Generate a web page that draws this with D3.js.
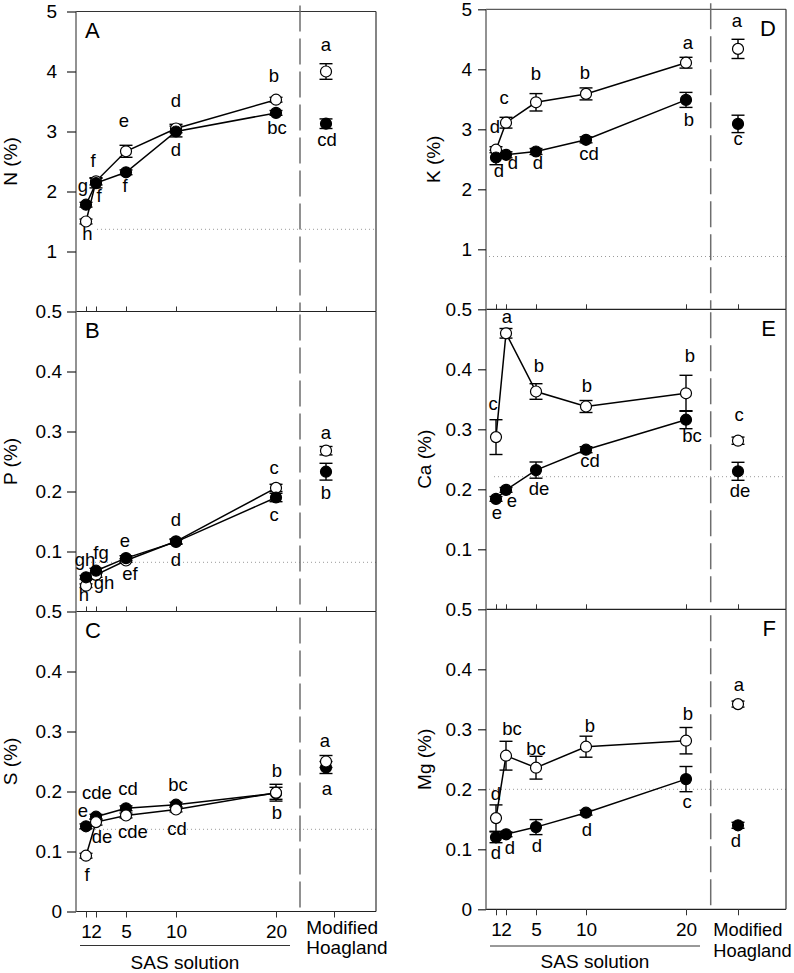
<!DOCTYPE html>
<html><head><meta charset="utf-8">
<script src="https://cdn.jsdelivr.net/npm/d3@7"></script>
<style>
body{margin:0;background:#fff}
svg{display:block}
text{font-family:"Liberation Sans",Arial,Helvetica,sans-serif;fill:#000}
</style>
</head><body><svg id="chart" width="794" height="973"></svg>
<script>
// ---------------- DATA ----------------
// Order of every series array: SAS solution 1, 2, 5, 10, 20, then Modified Hoagland
const sasLevels = [1, 2, 5, 10, 20];
const sasTickLabels = ["1", "2", "5", "10", "20"];
const hoaglandLabel = ["Modified", "Hoagland"];
const groupLabel = "SAS solution";
const panelLetters = ["A", "B", "C", "D", "E", "F"];
const yTitles = ["N (%)", "P (%)", "S (%)", "K (%)", "Ca (%)", "Mg (%)"];
const yTicksPercent = [1, 2, 3, 4, 5];
const yTicksMid = [0.1, 0.2, 0.3, 0.4, 0.5];
const yTicksBottom = [0, 0.1, 0.2, 0.3, 0.4, 0.5];

// N
const nOpen = [1.50, 2.17, 2.67, 3.05, 3.53, 4.00];
const nOpenErr = [0.04, 0.06, 0.10, 0.07, 0.04, 0.13];
const nFilled = [1.78, 2.14, 2.32, 3.00, 3.31, 3.13];
const nFilledErr = [0.04, 0.08, 0.04, 0.09, 0.04, 0.08];
const nOpenLetters = ["h", "f", "e", "d", "b", "a"];
const nFilledLetters = ["g", "f", "f", "d", "bc", "cd"];
const nRef = 1.37;
// P
const pOpen = [0.043, 0.061, 0.085, 0.117, 0.206, 0.268];
const pOpenErr = [0.003, 0.004, 0.003, 0.004, 0.006, 0.007];
const pFilled = [0.057, 0.068, 0.089, 0.116, 0.190, 0.233];
const pFilledErr = [0.003, 0.004, 0.004, 0.004, 0.007, 0.014];
const pOpenLetters = ["h", "gh", "ef", "d", "c", "a"];
const pFilledLetters = ["gh", "fg", "e", "d", "c", "b"];
const pRef = 0.082;
// S
const sOpen = [0.093, 0.149, 0.160, 0.170, 0.198, 0.250];
const sOpenErr = [0.004, 0.005, 0.004, 0.004, 0.014, 0.010];
const sFilled = [0.142, 0.158, 0.172, 0.178, 0.197, 0.240];
const sFilledErr = [0.004, 0.004, 0.004, 0.004, 0.010, 0.010];
const sOpenLetters = ["f", "de", "cde", "cd", "b", "a"];
const sFilledLetters = ["e", "cde", "cd", "bc", "b", "a"];
const sRef = 0.137;
// K
const kOpen = [2.66, 3.11, 3.45, 3.59, 4.11, 4.34];
const kOpenErr = [0.05, 0.09, 0.145, 0.10, 0.09, 0.16];
const kFilled = [2.53, 2.575, 2.63, 2.825, 3.49, 3.09];
const kFilledErr = [0.12, 0.05, 0.05, 0.05, 0.125, 0.145];
const kOpenLetters = ["d", "c", "b", "b", "a", "a"];
const kFilledLetters = ["d", "d", "d", "cd", "b", "c"];
const kRef = 0.88;
// Ca
const caOpen = [0.287, 0.460, 0.363, 0.338, 0.360, 0.281];
const caOpenErr = [0.029, 0.008, 0.013, 0.010, 0.030, 0.006];
const caFilled = [0.184, 0.199, 0.232, 0.266, 0.316, 0.230];
const caFilledErr = [0.004, 0.004, 0.0135, 0.005, 0.015, 0.015];
const caOpenLetters = ["c", "a", "b", "b", "b", "c"];
const caFilledLetters = ["e", "e", "de", "cd", "bc", "de"];
const caRef = 0.221;
// Mg
const mgOpen = [0.152, 0.256, 0.236, 0.271, 0.281, 0.342];
const mgOpenErr = [0.022, 0.024, 0.019, 0.0175, 0.022, 0.005];
const mgFilled = [0.120, 0.125, 0.137, 0.161, 0.217, 0.140];
const mgFilledErr = [0.009, 0.004, 0.0125, 0.004, 0.021, 0.005];
const mgOpenLetters = ["d", "bc", "bc", "b", "b", "a"];
const mgFilledLetters = ["d", "d", "d", "d", "c", "d"];
const mgRef = 0.200;

// ---------------- PANEL TABLE (built from the arrays above) ----------------
const panels = [
  {open: nOpen, openErr: nOpenErr, filled: nFilled, filledErr: nFilledErr, openLet: nOpenLetters, filledLet: nFilledLetters, ref: nRef, yMax: 5, ticks: yTicksPercent},
  {open: pOpen, openErr: pOpenErr, filled: pFilled, filledErr: pFilledErr, openLet: pOpenLetters, filledLet: pFilledLetters, ref: pRef, yMax: 0.5, ticks: yTicksMid},
  {open: sOpen, openErr: sOpenErr, filled: sFilled, filledErr: sFilledErr, openLet: sOpenLetters, filledLet: sFilledLetters, ref: sRef, yMax: 0.5, ticks: yTicksBottom},
  {open: kOpen, openErr: kOpenErr, filled: kFilled, filledErr: kFilledErr, openLet: kOpenLetters, filledLet: kFilledLetters, ref: kRef, yMax: 5, ticks: yTicksPercent},
  {open: caOpen, openErr: caOpenErr, filled: caFilled, filledErr: caFilledErr, openLet: caOpenLetters, filledLet: caFilledLetters, ref: caRef, yMax: 0.5, ticks: yTicksMid},
  {open: mgOpen, openErr: mgOpenErr, filled: mgFilled, filledErr: mgFilledErr, openLet: mgOpenLetters, filledLet: mgFilledLetters, ref: mgRef, yMax: 0.5, ticks: yTicksBottom}
];
panels.forEach((p, i) => { p.letter = panelLetters[i]; p.title = yTitles[i]; });

// ---------------- LAYOUT / STYLE ----------------
const W = 300, H = 300;
const columns = [
  {x0: 76, y0: 11.5, dash: 22.4, hoagX: 25, hoagTickBottom: 25.8, modDx: 6.3, modFont: 19, modDy: [22.3, 42.3], numPad: 7.5, groupLineDy: 34, groupTextDy: 57.5},
  {x0: 486, y0: 9.3, dash: 22.47, hoagX: 25.2, hoagTickBottom: 25.2, modDx: 2.6, modFont: 18.3, modDy: [26.7, 47.2], numPad: 7.5, groupLineDy: 36.7, groupTextDy: 59}
];
// per panel: tick padding, title x, which symbol on top, label offsets [dx, dy] in px (open / filled)
const panelLayout = [
  {col: 0, row: 0, pad: 10, titleX: 17, openOnTop: false, refStart: 2.1,
   openOff: [[1.5, 18], [-3, -14], [-2, -24], [0, -22], [-2, -18], [0, -21]],
   filledOff: [[-3, -13], [3, 19], [-1, 20], [0, 24], [1, 21], [1, 22]]},
  {col: 0, row: 1, pad: 5, titleX: 17, openOnTop: false, refStart: 0.3,
   openOff: [[-2, 15], [8, 14], [4, 19], [0, 25], [-2, -14], [0, -12]],
   filledOff: [[-1, -11], [5, -12], [-1, -11], [0, -16], [-2, 23], [0, 27]]},
  {col: 0, row: 2, pad: 5, titleX: 17, openOnTop: true, refStart: 0.3,
   openOff: [[1, 25], [6, 21], [7, 22], [1, 25], [1, -16], [-1, -15]],
   filledOff: [[-3, -9], [1, -18], [2, -13], [2, -14], [1, 26], [1, 27]]},
  {col: 1, row: 0, pad: 6, titleX: 439.5, openOnTop: false, refStart: 0.3,
   openOff: [[-1, -17], [-2, -19], [0, -22], [-1, -15], [2, -14], [-1, -22]],
   filledOff: [[3, 19], [7, 14], [2, 17], [3, 20], [3, 26], [0, 21]]},
  {col: 1, row: 1, pad: 6, titleX: 430.5, openOnTop: false, refStart: 0.8,
   openOff: [[-3, -27], [1, -10], [3, -20], [1, -15], [4, -31], [1, -20]],
   filledOff: [[1, 20], [6, 17], [3, 25], [4, 17], [6, 22], [2, 26]]},
  {col: 1, row: 2, pad: 6, titleX: 430.5, openOnTop: false, refStart: 0.3,
   openOff: [[0, -18], [6, -21], [0, -13], [4, -15], [2, -21], [1, -13]],
   filledOff: [[0, 22], [4, 20], [1, 25], [1, 23], [1, 29], [-2, 22]]}
];
const FONT = 19, LETTER_FONT = 18.5, PANEL_FONT = 22, R = 5.5, CAP = 6.5;

const svg = d3.select("#chart");
svg.append("rect").attr("width", 794).attr("height", 973).attr("fill", "#fff");

function fmtTick(d, yMax) {
  if (d === 0) return "0";
  return yMax >= 1 ? d3.format("d")(d) : d3.format(".1f")(d);
}

panels.forEach((p, i) => {
  const L = panelLayout[i];
  const C = columns[L.col];
  const x0 = C.x0, y0 = C.y0 + L.row * H, yb = y0 + H;
  const x = d3.scaleLinear().domain([0, 30]).range([x0, x0 + W]);
  const y = d3.scaleLinear().domain([0, p.yMax]).range([yb, y0]);
  const g = svg.append("g");
  const xs = [...sasLevels, C.hoagX];

  // reference dotted line
  g.append("line").attr("x1", x(L.refStart)).attr("x2", x(30)).attr("y1", y(p.ref)).attr("y2", y(p.ref))
    .attr("stroke", "#9a9a9a").attr("stroke-width", 1).attr("stroke-dasharray", "1,3");

  // frame
  if (L.row === 0) g.append("line").attr("x1", x(0)).attr("x2", x(30)).attr("y1", y0).attr("y2", y0).attr("stroke", "#333").attr("stroke-width", 1);
  g.append("line").attr("x1", x(30)).attr("x2", x(30)).attr("y1", y0).attr("y2", yb).attr("stroke", "#333").attr("stroke-width", 1.2);
  g.append("line").attr("x1", x(0)).attr("x2", x(30)).attr("y1", yb).attr("y2", yb).attr("stroke", "#222").attr("stroke-width", 1.2);
  g.append("line").attr("x1", x(0)).attr("x2", x(0)).attr("y1", y0).attr("y2", yb).attr("stroke", "#777").attr("stroke-width", 1.6);

  // y axis
  const yAx = g.append("g").attr("transform", `translate(${x0},0)`)
    .call(d3.axisLeft(y).tickValues(p.ticks).tickSize(L.col === 0 ? 9 : 8).tickPadding(L.pad).tickFormat(d => fmtTick(d, p.yMax)));
  yAx.select(".domain").remove();
  yAx.selectAll("line").attr("stroke", "#222").attr("stroke-width", 1.2);
  yAx.selectAll("text").attr("font-size", FONT);
  yAx.attr("font-family", null).attr("font-size", null);

  // x axis
  if (L.row < 2) {
    const xAx = g.append("g").attr("transform", `translate(0,${yb})`)
      .call(d3.axisBottom(x).tickValues(xs).tickSize(-5).tickFormat(""));
    xAx.select(".domain").remove();
    xAx.selectAll("line").attr("stroke", "#333").attr("stroke-width", 1);
  } else {
    const xAx = g.append("g").attr("transform", `translate(0,${yb})`)
      .call(d3.axisBottom(x).tickValues(sasLevels).tickSize(6).tickPadding(C.numPad).tickFormat((d, k) => sasTickLabels[k]));
    xAx.select(".domain").remove();
    xAx.selectAll("line").attr("stroke", "#333").attr("stroke-width", 1);
    xAx.selectAll("text").attr("font-size", FONT);
    xAx.attr("font-family", null).attr("font-size", null);
    const hAx = g.append("g").attr("transform", `translate(0,${yb})`)
      .call(d3.axisBottom(x).tickValues([C.hoagTickBottom]).tickSize(6).tickFormat(""));
    hAx.select(".domain").remove();
    hAx.selectAll("line").attr("stroke", "#333").attr("stroke-width", 1);
    // Modified Hoagland
    hoaglandLabel.forEach((t, k) => {
      g.append("text").attr("x", x(C.dash) + C.modDx).attr("y", yb + C.modDy[k]).attr("font-size", C.modFont).text(t);
    });
    // SAS solution group
    g.append("line").attr("x1", x(0.4)).attr("x2", x(21.4)).attr("y1", yb + C.groupLineDy).attr("y2", yb + C.groupLineDy)
      .attr("stroke", "#333").attr("stroke-width", 1);
    g.append("text").attr("x", x(10.9)).attr("y", yb + C.groupTextDy).attr("text-anchor", "middle").attr("font-size", FONT).text(groupLabel);
  }

  // y title
  g.append("text").attr("transform", `translate(${L.titleX},${(y0 + yb) / 2}) rotate(-90)`)
    .attr("text-anchor", "middle").attr("font-size", FONT).text(p.title);

  // panel letter
  if (L.col === 0) g.append("text").attr("x", x0 + 9).attr("y", y0 + 26).attr("font-size", PANEL_FONT).text(p.letter);
  else g.append("text").attr("x", x0 + W - 10).attr("y", y0 + 26.7).attr("text-anchor", "end").attr("font-size", PANEL_FONT).text(p.letter);

  // series
  const series = [
    {vals: p.open, err: p.openErr, fill: "#fff", lets: p.openLet, off: L.openOff},
    {vals: p.filled, err: p.filledErr, fill: "#000", lets: p.filledLet, off: L.filledOff}
  ];
  const line = d3.line().x(d => x(d[0])).y(d => y(d[1]));
  series.forEach(s => {
    g.append("path").attr("d", line(sasLevels.map((v, k) => [v, s.vals[k]])))
      .attr("fill", "none").attr("stroke", "#000").attr("stroke-width", 1.5);
  });
  series.forEach(s => {
    s.vals.forEach((v, k) => {
      const cx = x(xs[k]);
      const lo = y(v - s.err[k]), hi = y(v + s.err[k]);
      g.append("line").attr("x1", cx).attr("x2", cx).attr("y1", lo).attr("y2", hi).attr("stroke", "#000").attr("stroke-width", 1.4);
      [lo, hi].forEach(yy => g.append("line").attr("x1", cx - CAP).attr("x2", cx + CAP).attr("y1", yy).attr("y2", yy).attr("stroke", "#000").attr("stroke-width", 1.4));
    });
  });
  const order = L.openOnTop ? [series[1], series[0]] : [series[0], series[1]];
  order.forEach(s => {
    s.vals.forEach((v, k) => {
      g.append("circle").attr("cx", x(xs[k])).attr("cy", y(v)).attr("r", R)
        .attr("fill", s.fill).attr("stroke", "#000").attr("stroke-width", 1.2);
    });
  });
  series.forEach(s => {
    s.vals.forEach((v, k) => {
      g.append("text").attr("x", x(xs[k]) + s.off[k][0]).attr("y", y(v) + s.off[k][1])
        .attr("text-anchor", "middle").attr("font-size", LETTER_FONT).text(s.lets[k]);
    });
  });

  // dashed separator
  g.append("line").attr("x1", x(C.dash)).attr("x2", x(C.dash))
    .attr("y1", L.row === 0 ? y0 - 6 : y0).attr("y2", yb)
    .attr("stroke", "#6e6e6e").attr("stroke-width", 1.5).attr("stroke-dasharray", "26,7")
    .attr("stroke-dashoffset", -(L.row * 300) % 33);
});
</script>
</body></html>
